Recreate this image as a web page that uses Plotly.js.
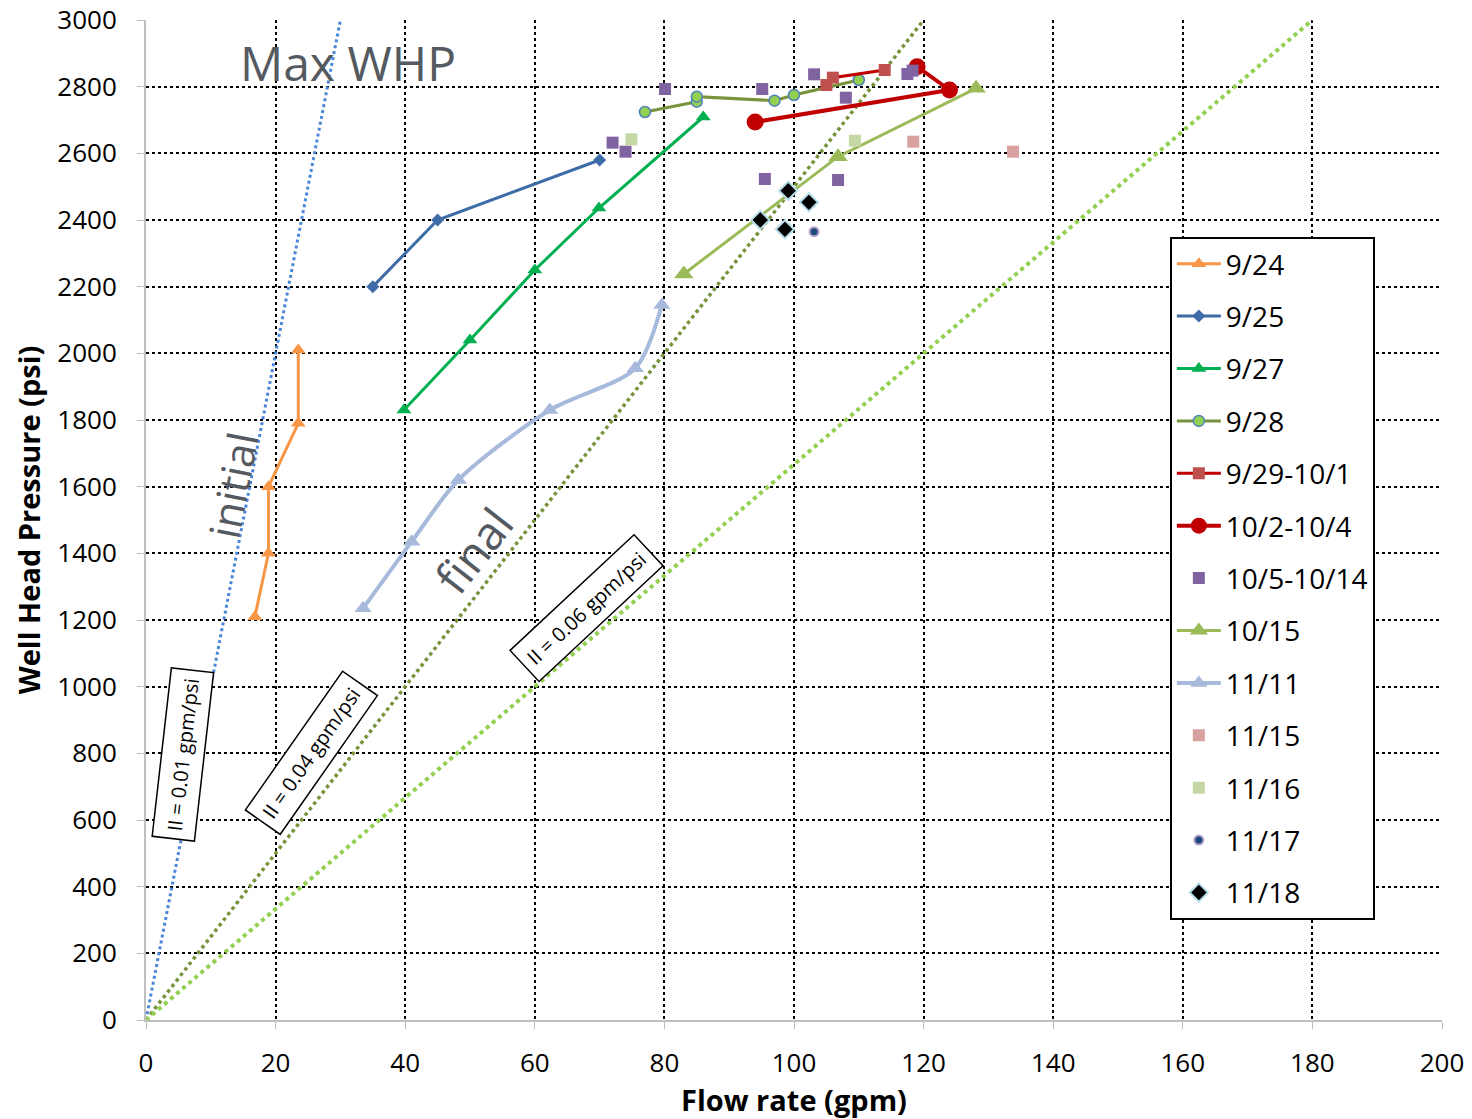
<!DOCTYPE html>
<html>
<head>
<meta charset="utf-8">
<script src="https://cdn.plot.ly/plotly-3.0.1.min.js"></script>
<style>html,body{margin:0;padding:0;background:#fff}#chart{width:1472px;height:1119px}</style>
</head>
<body>
<div id="chart"></div>
<script>
// Reference injectivity lines (gpm, psi)
const refInitialX = [0, 30];
const refInitialY = [0, 3000];
const refMidX = [0, 120];
const refMidY = [0, 3000];
const refFinalX = [0, 180];
const refFinalY = [0, 3000];

// Series data: flow rate (gpm) and well head pressure (psi)
const s0924x = [16.8, 18.9, 18.9, 23.5, 23.5];
const s0924y = [1210, 1400, 1600, 1790, 2010];
const s0925x = [35, 45, 70];
const s0925y = [2200, 2400, 2580];
const s0927x = [39.8, 50, 60, 69.9, 86];
const s0927y = [1830, 2040, 2250, 2436, 2709];
const s0928x = [77, 85, 85, 97, 100, 110];
const s0928y = [2724, 2755, 2770, 2758, 2775, 2820];
const s0929x = [105, 106, 114];
const s0929y = [2805, 2827, 2850];
const s1002x = [94, 124, 119];
const s1002y = [2694, 2790, 2860];
const s1005x = [80.1, 72, 74, 95.1, 103.1, 108, 117.5, 118.3, 95.5, 106.8];
const s1005y = [2793, 2632, 2605, 2793, 2837, 2767, 2838, 2848, 2523, 2520];
const s1015x = [83, 106.8, 128.1];
const s1015y = [2238, 2590, 2795];
const s1111x = [33.5, 41, 48.2, 62.3, 75.5, 79.6];
const s1111y = [1235, 1435, 1620, 1830, 1955, 2145];
const s1115x = [118.4, 133.8];
const s1115y = [2635, 2605];
const s1116x = [74.9, 109.4];
const s1116y = [2642, 2638];
const s1117x = [103.1];
const s1117y = [2365];
const s1118x = [99.1, 102.3, 94.8, 98.6];
const s1118y = [2488, 2453, 2400, 2372];

const seriesNames = ['9/24','9/25','9/27','9/28','9/29-10/1','10/2-10/4','10/5-10/14','10/15','11/11','11/15','11/16','11/17','11/18'];

const F = '"Open Sans", "DejaVu Sans", sans-serif';

function ref(x, y, color, width) {
  return {x: x, y: y, mode: 'lines', type: 'scatter', showlegend: false, hoverinfo: 'skip',
          line: {color: color, width: width, dash: 'dot'}};
}
function ser(i, x, y, mode, line, marker) {
  const t = {x: x, y: y, mode: mode, type: 'scatter', name: seriesNames[i], legendgroup: 'g' + i, marker: marker};
  if (line) t.line = line;
  return t;
}

const traces = [
  ref(refInitialX, refInitialY, '#4A86D8', 3),
  ref(refMidX, refMidY, '#77933C', 3.5),
  ref(refFinalX, refFinalY, '#92D050', 4),
  ser(0, s0924x, s0924y, 'lines+markers', {color: '#F79646', width: 3}, {symbol: 'triangle-up', size: 13, color: '#F79646'}),
  ser(1, s0925x, s0925y, 'lines+markers', {color: '#3E6CA6', width: 3}, {symbol: 'diamond', size: 10, color: '#3E6CA6'}),
  ser(2, s0927x, s0927y, 'lines+markers', {color: '#00B050', width: 3}, {symbol: 'triangle-up', size: 13, color: '#00B050'}),
  ser(3, s0928x, s0928y, 'lines+markers', {color: '#77933C', width: 3}, {symbol: 'circle', size: 11, color: '#92D050', line: {color: '#4F81BD', width: 1.5}}),
  ser(4, s0929x, s0929y, 'lines+markers', {color: '#C00000', width: 3}, {symbol: 'square', size: 12, color: '#C0504D'}),
  ser(5, s1002x, s1002y, 'lines+markers', {color: '#C00000', width: 4}, {symbol: 'circle', size: 17, color: '#C00000'}),
  ser(6, s1005x, s1005y, 'markers', null, {symbol: 'square', size: 12, color: '#8064A2'}),
  ser(7, s1015x, s1015y, 'lines+markers', {color: '#9BBB59', width: 3}, {symbol: 'triangle-up', size: 17, color: '#9BBB59'}),
  ser(8, s1111x, s1111y, 'lines+markers', {color: '#A7BADB', width: 4, shape: 'spline', smoothing: 0.8}, {symbol: 'triangle-up', size: 15, color: '#A7BADB'}),
  ser(9, s1115x, s1115y, 'markers', null, {symbol: 'square', size: 12, color: '#D9A1A0'}),
  ser(10, s1116x, s1116y, 'markers', null, {symbol: 'square', size: 12, color: '#C4D7A4'}),
  ser(11, s1117x, s1117y, 'markers', null, {symbol: 'circle', size: 9, color: '#1F497D', line: {color: '#B3A2C7', width: 2}}),
  ser(12, s1118x, s1118y, 'markers', null, {symbol: 'diamond', size: 14, color: '#000000', line: {color: '#B7DEE8', width: 2}})
];

const layout = {
  width: 1472, height: 1119,
  margin: {l: 146, r: 30, t: 20, b: 99},
  paper_bgcolor: '#ffffff', plot_bgcolor: '#ffffff',
  font: {family: F, color: '#000000'},
  showlegend: true,
  xaxis: {
    range: [0, 200], dtick: 20, tick0: 0,
    showgrid: true, gridcolor: '#000000', gridwidth: 2, griddash: 'dot',
    zeroline: false, showline: true, linecolor: '#BFBFBF', linewidth: 2,
    ticks: 'outside', ticklen: 7, tickcolor: '#BFBFBF', tickwidth: 1,
    ticklabelstandoff: 12,
    tickfont: {family: F, size: 26, color: '#000000'},
    title: {text: '<b>Flow rate (gpm)</b>', font: {family: F, size: 29, color: '#000000'}, standoff: 4}
  },
  yaxis: {
    range: [0, 3000], dtick: 200, tick0: 0,
    showgrid: true, gridcolor: '#000000', gridwidth: 2, griddash: 'dot',
    zeroline: false, showline: true, linecolor: '#BFBFBF', linewidth: 2,
    ticks: 'outside', ticklen: 7, tickcolor: '#BFBFBF', tickwidth: 1,
    ticklabelstandoff: 15,
    tickfont: {family: F, size: 26, color: '#000000'},
    title: {text: '<b>Well Head Pressure (psi)</b>', font: {family: F, size: 29, color: '#000000'}, standoff: 8}
  },
  legend: {
    x: 0.790, y: 0.783, xanchor: 'left', yanchor: 'top',
    bgcolor: '#ffffff', bordercolor: '#000000', borderwidth: 2,
    font: {family: F, size: 28, color: '#000000'},
    traceorder: 'grouped', tracegroupgap: 13, itemwidth: 44
  },
  annotations: [
    {x: 31.2, y: 2874, xref: 'x', yref: 'y', text: 'Max WHP', showarrow: false,
     font: {family: F, size: 48, color: '#555A61'}},
    {x: 13.3, y: 1605, xref: 'x', yref: 'y', text: 'initial', showarrow: false, textangle: -79,
     font: {family: F, size: 42, color: '#555A61'}},
    {x: 50.5, y: 1410, xref: 'x', yref: 'y', text: 'final', showarrow: false, textangle: -52,
     font: {family: F, size: 46, color: '#555A61'}},
    {x: 5.7, y: 798, xref: 'x', yref: 'y', text: 'II = 0.01 gpm/psi', showarrow: false, textangle: -83.5,
     font: {family: F, size: 20, color: '#000000'}, bgcolor: '#ffffff', bordercolor: '#000000', borderwidth: 1.5, borderpad: 7},
    {x: 25.5, y: 801, xref: 'x', yref: 'y', text: 'II = 0.04 gpm/psi', showarrow: false, textangle: -55,
     font: {family: F, size: 20, color: '#000000'}, bgcolor: '#ffffff', bordercolor: '#000000', borderwidth: 1.5, borderpad: 7},
    {x: 68, y: 1236, xref: 'x', yref: 'y', text: 'II = 0.06 gpm/psi', showarrow: false, textangle: -43,
     font: {family: F, size: 20, color: '#000000'}, bgcolor: '#ffffff', bordercolor: '#000000', borderwidth: 1.5, borderpad: 7}
  ]
};

Plotly.newPlot('chart', traces, layout, {displayModeBar: false, responsive: false});
</script>
</body>
</html>
